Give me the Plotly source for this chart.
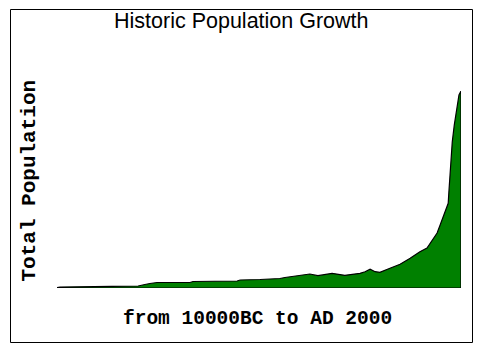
import plotly.graph_objects as go

# Data (years, population in millions)
years = [-10000, -9910, -8430, -8370, -7590, -7500, -7390, -7240, -7030, -6050,
         -5960, -4650, -4560, -3970, -3380, -3230, -2780, -2490, -2250, -1830,
         -1450, -1000, -850, -700, -550, -410, -110, 190, 490, 780,
         990, 1140, 1290, 1380, 1470, 1580, 1620, 1640, 1670, 1700,
         1740, 1800, 1870, 1940, 2000]
population = [15, 30, 30, 52, 61, 91, 107, 137, 168, 168,
              198, 213, 244, 259, 289, 320, 396, 426, 375, 448,
              387, 448, 496, 570, 496, 478, 600, 722, 905, 1106,
              1218, 1431, 1675, 1919, 2162, 2437, 2580, 2924, 3350, 3959,
              4447, 4965, 5482, 5878, 6000]

title_text = "Historic Population Growth"
x_label = "from 10000BC to AD 2000"
y_label = "Total Population"

# plot area in pixels
L, R, T, B = 57, 461, 91, 288
W, H = 480, 353
pw, ph = R - L, B - T

def px(x):
    return (x - L) / pw

def py(y):
    return (B - y) / ph

xs = [years[0]] + years + [years[-1], years[0]]
ys = [0] + population + [0, 0]

fig = go.Figure()
fig.add_trace(go.Scatter(
    x=xs, y=ys, mode="lines", fill="toself",
    fillcolor="#008000", line=dict(color="black", width=1.2),
    hoverinfo="skip", showlegend=False,
))

fig.update_layout(
    width=W, height=H,
    margin=dict(l=L, r=W - R, t=T, b=H - B, pad=0),
    paper_bgcolor="white", plot_bgcolor="white",
    xaxis=dict(visible=False, range=[years[0], years[-1]]),
    yaxis=dict(visible=False, range=[0, max(population)]),
    shapes=[dict(type="rect", xref="paper", yref="paper",
                 x0=px(10.5), x1=px(472.5), y0=py(342.5), y1=py(9.5),
                 line=dict(color="black", width=1), layer="above")],
    annotations=[
        dict(text=title_text, xref="paper", yref="paper",
             x=px(241.5), y=py(20.5), xanchor="center", yanchor="middle",
             showarrow=False,
             font=dict(family="Liberation Sans, Arial", size=21.5, color="black")),
        dict(text="<b>" + x_label + "</b>", xref="paper", yref="paper",
             x=px(257.5), y=py(319), xanchor="center", yanchor="middle",
             showarrow=False,
             font=dict(family="Liberation Mono, Courier New", size=19.5, color="black")),
        dict(text="<b>" + y_label + "</b>", xref="paper", yref="paper",
             x=px(28.5), y=py(181), xanchor="center", yanchor="middle",
             textangle=-90, showarrow=False,
             font=dict(family="Liberation Mono, Courier New", size=21, color="black")),
    ],
)

fig.write_html("out.html")
